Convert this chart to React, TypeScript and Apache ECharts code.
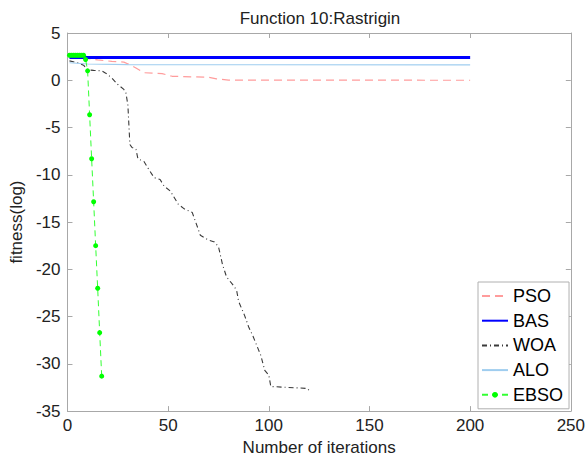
import React, { useEffect, useRef } from "react";
import * as echarts from "echarts";

const chartTitle = "Function 10:Rastrigin";
const xName = "Number of iterations";
const yName = "fitness(log)";
const seriesNames = ["PSO", "BAS", "WOA", "ALO", "EBSO"];

const psoIter = [1, 10, 15, 22, 28, 31, 34, 38, 47, 52, 70, 74, 80, 200];
const psoFit = [2.45, 2.3, 2.15, 2.0, 1.92, 1.65, 1.3, 0.8, 0.7, 0.42, 0.32, 0.15, 0.02, 0.0];

const basIter = [1, 200];
const basFit = [2.4, 2.4];

const woaIter = [1, 5, 8, 10, 13, 17, 19, 22, 25, 28, 29, 30, 31, 32, 34, 35, 38, 40, 43, 46, 48, 51, 55, 58, 62, 64, 66, 70, 73, 75, 77, 79, 82, 84, 85, 88, 90, 92, 96, 98, 100, 101, 119, 121];
const woaFit = [2.05, 1.85, 1.6, 1.1, 1.05, 1.0, 0.75, 0.25, -0.45, -0.97, -1.3, -2.6, -6.8, -7.1, -7.3, -8.3, -8.6, -9.3, -10.3, -10.5, -11.2, -11.7, -13.1, -13.6, -14.0, -15.2, -16.4, -16.9, -17.1, -17.6, -19.5, -20.8, -21.6, -22.2, -23.4, -24.9, -26.1, -27.0, -29.1, -30.7, -31.2, -32.4, -32.6, -33.0];

const aloIter = [1, 10, 30, 200];
const aloFit = [1.85, 1.72, 1.65, 1.63];

const ebsoIter = [1, 2, 3, 4, 5, 6, 7, 8, 9, 10, 11, 12, 13, 14, 15, 16, 17];
const ebsoFit = [2.65, 2.65, 2.65, 2.65, 2.65, 2.65, 2.65, 2.65, 2.2, 1.0, -3.65, -8.3, -12.85, -17.5, -22.0, -26.7, -31.3];

const pairs = (xs: number[], ys: number[]) => xs.map((x, i) => [x, ys[i]]);

const FONT = "'Liberation Sans', Arial, Helvetica, sans-serif";
const AXIS_COLOR = "#a8a8a8";
const TEXT_COLOR = "#222222";

export default function App() {
  const ref = useRef<HTMLDivElement>(null);
  useEffect(() => {
    const chart = echarts.init(ref.current!, null, { renderer: "svg" });
    const axisCommon = {
      axisLine: { show: true, onZero: false, lineStyle: { color: AXIS_COLOR, width: 1 } },
      axisTick: { show: true, inside: true, length: 5, lineStyle: { color: AXIS_COLOR } },
      splitLine: { show: false },
    };
    chart.setOption({
      animation: false,
      backgroundColor: "#ffffff",
      textStyle: { fontFamily: FONT },
      grid: { left: 65, right: 13, top: 33, bottom: 44 },
      graphic: [
        {
          type: "text",
          x: 320,
          y: 18,
          style: {
            text: chartTitle,
            fill: TEXT_COLOR,
            font: `17px ${FONT}`,
            textAlign: "center",
            textVerticalAlign: "middle",
          },
        },
      ],
      xAxis: [
        {
          type: "value",
          min: 0,
          max: 250,
          interval: 50,
          position: "bottom",
          name: xName,
          nameLocation: "middle",
          nameGap: 21,
          nameTextStyle: { fontSize: 17, color: TEXT_COLOR, fontFamily: FONT },
          axisLabel: { fontSize: 17, color: TEXT_COLOR, margin: 6, fontFamily: FONT },
          ...axisCommon,
        },
        {
          type: "value",
          min: 0,
          max: 250,
          interval: 50,
          position: "top",
          axisLabel: { show: false },
          ...axisCommon,
        },
      ],
      yAxis: [
        {
          type: "value",
          min: -35,
          max: 5,
          interval: 5,
          position: "left",
          name: yName,
          nameLocation: "middle",
          nameGap: 31,
          nameRotate: 90,
          nameTextStyle: { fontSize: 17, color: TEXT_COLOR, fontFamily: FONT },
          axisLabel: { fontSize: 17, color: TEXT_COLOR, margin: 7, fontFamily: FONT },
          ...axisCommon,
        },
        {
          type: "value",
          min: -35,
          max: 5,
          interval: 5,
          position: "right",
          axisLabel: { show: false },
          ...axisCommon,
        },
      ],
      legend: {
        orient: "vertical",
        left: 478,
        top: 282,
        itemWidth: 26,
        itemHeight: 7,
        itemGap: 6.7,
        itemTextGap: 4,
        padding: [5, 6, 5, 3],
        borderColor: "#b0b0b0",
        borderWidth: 1,
        backgroundColor: "#ffffff",
        textStyle: { fontSize: 18, color: "#000000", fontFamily: FONT },
        data: [
          { name: "PSO", itemStyle: { opacity: 0 } },
          { name: "BAS", itemStyle: { opacity: 0 } },
          { name: "WOA", itemStyle: { opacity: 0 } },
          { name: "ALO", itemStyle: { opacity: 0 } },
          { name: "EBSO" },
        ],
      },
      series: [
        {
          name: seriesNames[0],
          type: "line",
          data: pairs(psoIter, psoFit),
          symbol: "none",
          lineStyle: { color: "#ff9c9c", width: 1.2, type: [8, 5] },
          itemStyle: { color: "#ff9c9c" },
        },
        {
          name: seriesNames[1],
          type: "line",
          data: pairs(basIter, basFit),
          symbol: "none",
          lineStyle: { color: "#0000ff", width: 3, type: "solid" },
          itemStyle: { color: "#0000ff" },
        },
        {
          name: seriesNames[2],
          type: "line",
          data: pairs(woaIter, woaFit),
          symbol: "none",
          lineStyle: { color: "#3a3a3a", width: 1.1, type: [5, 3, 1, 3] },
          itemStyle: { color: "#3a3a3a" },
        },
        {
          name: seriesNames[3],
          type: "line",
          data: pairs(aloIter, aloFit),
          symbol: "none",
          lineStyle: { color: "#9fcdef", width: 1.2, type: "solid" },
          itemStyle: { color: "#9fcdef" },
        },
        {
          name: seriesNames[4],
          type: "line",
          data: pairs(ebsoIter, ebsoFit),
          symbol: "circle",
          symbolSize: 5,
          showSymbol: true,
          lineStyle: { color: "#33ff33", width: 1, type: [6, 4] },
          itemStyle: { color: "#00ff00" },
        },
      ],
    });
    return () => chart.dispose();
  }, []);
  return (
    <div
      ref={ref}
      style={{ position: "fixed", left: 0, top: 0, width: 588, height: 461, background: "#fff" }}
    />
  );
}
